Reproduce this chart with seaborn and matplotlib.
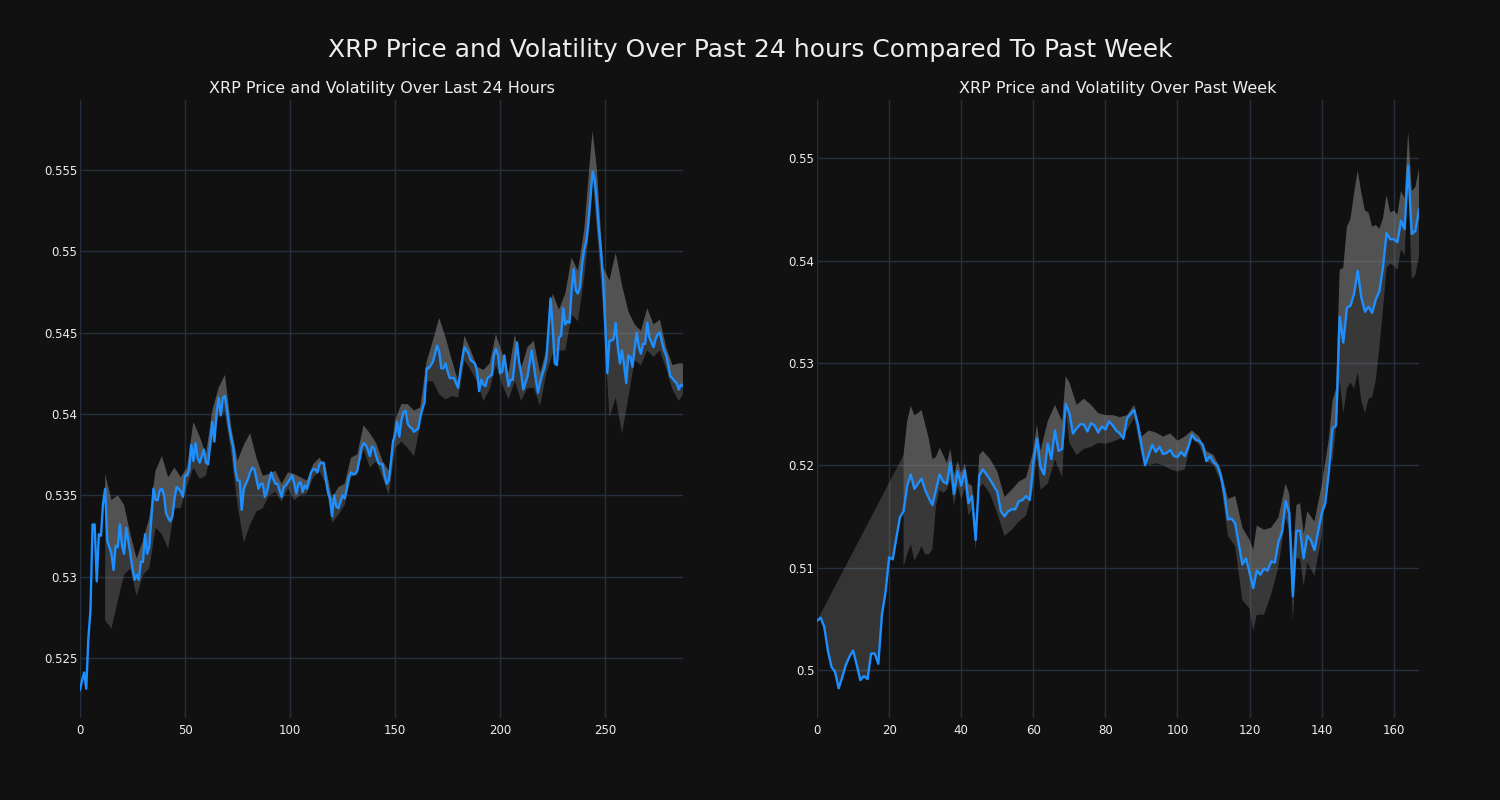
import numpy as np
import pandas as pd
import matplotlib
matplotlib.use("Agg")
import matplotlib.pyplot as plt
import seaborn as sns
from matplotlib.ticker import FuncFormatter

# ---------------- data ----------------
day_price = [
    0.5230, 0.5236, 0.5241, 0.5231, 0.5262, 0.5279, 0.5332, 0.5332, 0.5297, 0.5326,
    0.5325, 0.5345, 0.5354, 0.5322, 0.5318, 0.5314, 0.5304, 0.5319, 0.5318, 0.5332,
    0.5319, 0.5314, 0.5330, 0.5322, 0.5314, 0.5305, 0.5298, 0.5301, 0.5298, 0.5309,
    0.5309, 0.5326, 0.5314, 0.5318, 0.5336, 0.5354, 0.5347, 0.5347, 0.5353, 0.5354,
    0.5350, 0.5339, 0.5336, 0.5334, 0.5337, 0.5348, 0.5355, 0.5354, 0.5352, 0.5349,
    0.5362, 0.5362, 0.5366, 0.5381, 0.5371, 0.5382, 0.5373, 0.5370, 0.5374, 0.5378,
    0.5370, 0.5369, 0.5382, 0.5395, 0.5383, 0.5400, 0.5410, 0.5399, 0.5410, 0.5411,
    0.5402, 0.5392, 0.5385, 0.5379, 0.5365, 0.5359, 0.5359, 0.5341, 0.5354, 0.5357,
    0.5360, 0.5364, 0.5367, 0.5366, 0.5360, 0.5354, 0.5357, 0.5357, 0.5349, 0.5352,
    0.5358, 0.5364, 0.5360, 0.5357, 0.5357, 0.5353, 0.5349, 0.5355, 0.5356, 0.5358,
    0.5360, 0.5362, 0.5357, 0.5351, 0.5357, 0.5358, 0.5352, 0.5356, 0.5354, 0.5359,
    0.5364, 0.5366, 0.5366, 0.5364, 0.5369, 0.5370, 0.5370, 0.5360, 0.5352, 0.5348,
    0.5337, 0.5350, 0.5343, 0.5342, 0.5346, 0.5350, 0.5348, 0.5354, 0.5361, 0.5364,
    0.5363, 0.5363, 0.5365, 0.5372, 0.5379, 0.5382, 0.5381, 0.5378, 0.5374, 0.5380,
    0.5379, 0.5374, 0.5370, 0.5369, 0.5369, 0.5362, 0.5357, 0.5359, 0.5370, 0.5383,
    0.5387, 0.5395, 0.5386, 0.5396, 0.5401, 0.5402, 0.5394, 0.5392, 0.5391, 0.5389,
    0.5390, 0.5391, 0.5398, 0.5403, 0.5407, 0.5428, 0.5428, 0.5430, 0.5432, 0.5437,
    0.5442, 0.5438, 0.5428, 0.5428, 0.5431, 0.5426, 0.5422, 0.5422, 0.5422, 0.5419,
    0.5416, 0.5426, 0.5434, 0.5441, 0.5439, 0.5437, 0.5433, 0.5432, 0.5431, 0.5426,
    0.5414, 0.5421, 0.5418, 0.5417, 0.5422, 0.5423, 0.5424, 0.5436, 0.5440, 0.5436,
    0.5425, 0.5426, 0.5436, 0.5426, 0.5417, 0.5421, 0.5421, 0.5433, 0.5444, 0.5432,
    0.5425, 0.5415, 0.5419, 0.5423, 0.5431, 0.5439, 0.5430, 0.5421, 0.5413, 0.5419,
    0.5424, 0.5428, 0.5434, 0.5452, 0.5471, 0.5453, 0.5431, 0.5430, 0.5447, 0.5448,
    0.5465, 0.5455, 0.5457, 0.5456, 0.5476, 0.5489, 0.5476, 0.5474, 0.5478, 0.5492,
    0.5501, 0.5506, 0.5518, 0.5533, 0.5549, 0.5544, 0.5530, 0.5513, 0.5500, 0.5483,
    0.5455, 0.5425, 0.5445, 0.5445, 0.5446, 0.5456, 0.5441, 0.5431, 0.5439, 0.5430,
    0.5419, 0.5436, 0.5435, 0.5429, 0.5440, 0.5450, 0.5441, 0.5437, 0.5443, 0.5443,
    0.5456, 0.5447, 0.5444, 0.5441, 0.5446, 0.5449, 0.5450, 0.5444, 0.5439, 0.5436,
    0.5430, 0.5423, 0.5422, 0.5420, 0.5419, 0.5415, 0.5418, 0.5417,
]

day_band_x = [12, 15, 18, 21, 24, 27, 30, 33, 36, 39, 42, 45, 48, 51, 54, 57, 60, 63,
              66, 69, 72, 75, 78, 81, 84, 87, 90, 93, 96, 99, 102, 105, 108, 111, 114,
              117, 120, 123, 126, 129, 132, 135, 138, 141, 144, 147, 150, 153, 156, 159,
              162, 165, 168, 171, 174, 177, 180, 183, 186, 189, 192, 195, 198, 201, 204,
              207, 210, 213, 216, 219, 222, 225, 228, 231, 234, 237, 240, 243, 244, 246,
              249, 252, 255, 258, 261, 264, 267, 270, 273, 276, 279, 282, 285, 287]
day_band_hi = [0.5363, 0.5347, 0.5350, 0.5344, 0.5326, 0.5311, 0.5322, 0.5336, 0.5365,
               0.5374, 0.5361, 0.5367, 0.5361, 0.5367, 0.5395, 0.5386, 0.5375, 0.5402,
               0.5416, 0.5424, 0.5392, 0.5371, 0.5381, 0.5388, 0.5373, 0.5362, 0.5363,
               0.5365, 0.5357, 0.5364, 0.5363, 0.5361, 0.5359, 0.5369, 0.5373, 0.5367,
               0.5348, 0.5355, 0.5357, 0.5373, 0.5375, 0.5393, 0.5388, 0.5382, 0.5371,
               0.5365, 0.5396, 0.5406, 0.5406, 0.5402, 0.5404, 0.5432, 0.5445, 0.5459,
               0.5447, 0.5433, 0.5420, 0.5448, 0.5439, 0.5429, 0.5427, 0.5431, 0.5449,
               0.5437, 0.5425, 0.5449, 0.5428, 0.5441, 0.5445, 0.5425, 0.5439, 0.5474,
               0.5464, 0.5474, 0.5496, 0.5488, 0.5513, 0.5560, 0.5574, 0.5551, 0.5490,
               0.5482, 0.5499, 0.5479, 0.5463, 0.5455, 0.5451, 0.5465, 0.5455, 0.5458,
               0.5441, 0.5430, 0.5431, 0.5431]
day_band_lo = [0.5273, 0.5268, 0.5285, 0.5301, 0.5305, 0.5288, 0.5301, 0.5305, 0.5330,
               0.5326, 0.5317, 0.5342, 0.5342, 0.5356, 0.5367, 0.5360, 0.5362, 0.5382,
               0.5399, 0.5401, 0.5376, 0.5344, 0.5321, 0.5332, 0.5340, 0.5342, 0.5350,
               0.5352, 0.5346, 0.5354, 0.5347, 0.5350, 0.5351, 0.5361, 0.5365, 0.5357,
               0.5333, 0.5338, 0.5344, 0.5361, 0.5363, 0.5378, 0.5367, 0.5371, 0.5361,
               0.5350, 0.5379, 0.5383, 0.5379, 0.5374, 0.5393, 0.5420, 0.5420, 0.5412,
               0.5409, 0.5411, 0.5410, 0.5433, 0.5427, 0.5420, 0.5408, 0.5415, 0.5430,
               0.5418, 0.5409, 0.5420, 0.5408, 0.5416, 0.5416, 0.5405, 0.5425, 0.5437,
               0.5439, 0.5439, 0.5461, 0.5457, 0.5484, 0.5521, 0.5546, 0.5514, 0.5465,
               0.5398, 0.5410, 0.5388, 0.5410, 0.5433, 0.5430, 0.5439, 0.5435, 0.5439,
               0.5428, 0.5415, 0.5408, 0.5412]

week_price = [
    0.5048, 0.5051, 0.5042, 0.5019, 0.5003, 0.4998, 0.4982, 0.4993, 0.5005, 0.5013,
    0.5019, 0.5005, 0.4990, 0.4994, 0.4991, 0.5016, 0.5016, 0.5006, 0.5054, 0.5076,
    0.5110, 0.5108, 0.5129, 0.5149, 0.5155, 0.5180, 0.5191, 0.5177, 0.5182, 0.5187,
    0.5176, 0.5168, 0.5161, 0.5176, 0.5191, 0.5184, 0.5182, 0.5203, 0.5172, 0.5194,
    0.5180, 0.5195, 0.5163, 0.5170, 0.5127, 0.5190, 0.5196, 0.5191, 0.5186, 0.5180,
    0.5174, 0.5155, 0.5150, 0.5155, 0.5157, 0.5157, 0.5165, 0.5166, 0.5170, 0.5166,
    0.5202, 0.5226, 0.5198, 0.5191, 0.5221, 0.5206, 0.5234, 0.5214, 0.5216, 0.5260,
    0.5251, 0.5231, 0.5236, 0.5240, 0.5240, 0.5233, 0.5241, 0.5239, 0.5232, 0.5238,
    0.5235, 0.5243, 0.5239, 0.5234, 0.5231, 0.5226, 0.5246, 0.5250, 0.5254, 0.5240,
    0.5220, 0.5200, 0.5210, 0.5220, 0.5213, 0.5218, 0.5211, 0.5212, 0.5215, 0.5209,
    0.5208, 0.5213, 0.5209, 0.5218, 0.5230, 0.5225, 0.5224, 0.5220, 0.5204, 0.5209,
    0.5203, 0.5200, 0.5190, 0.5172, 0.5147, 0.5148, 0.5143, 0.5123, 0.5103, 0.5109,
    0.5095, 0.5080, 0.5097, 0.5093, 0.5099, 0.5097, 0.5106, 0.5105, 0.5125, 0.5135,
    0.5165, 0.5153, 0.5072, 0.5136, 0.5136, 0.5109, 0.5131, 0.5127, 0.5117, 0.5135,
    0.5153, 0.5163, 0.5194, 0.5236, 0.5239, 0.5345, 0.5320, 0.5354, 0.5356, 0.5368,
    0.5390, 0.5364, 0.5350, 0.5355, 0.5349, 0.5362, 0.5370, 0.5393, 0.5427, 0.5421,
    0.5421, 0.5418, 0.5439, 0.5431, 0.5493, 0.5426, 0.5429, 0.5450,
]

week_band_x = [0, 24, 25, 26, 27, 28, 29, 30, 31, 32, 33, 34, 35, 36, 37, 38, 39, 40,
               41, 42, 43, 44, 45, 46, 48, 50, 52, 54, 56, 58, 60, 61, 62, 64, 66, 68,
               69, 70, 72, 74, 76, 78, 80, 82, 84, 86, 88, 90, 92, 94, 96, 98, 100, 102,
               104, 106, 108, 110, 112, 114, 116, 118, 120, 121, 122, 124, 126, 128, 130,
               131, 132, 133, 134, 135, 136, 138, 140, 142, 143, 144, 145, 146, 147, 148,
               149, 150, 151, 152, 153, 154, 155, 156, 157, 158, 159, 160, 161, 162, 163,
               164, 165, 166, 167]
week_band_hi = [0.5048, 0.5210, 0.5243, 0.5258, 0.5249, 0.5251, 0.5254, 0.5240, 0.5226,
                0.5206, 0.5208, 0.5217, 0.5210, 0.5202, 0.5216, 0.5190, 0.5204, 0.5192,
                0.5202, 0.5182, 0.5180, 0.5137, 0.5210, 0.5214, 0.5206, 0.5194, 0.5169,
                0.5176, 0.5184, 0.5188, 0.5214, 0.5240, 0.5214, 0.5243, 0.5259, 0.5243,
                0.5287, 0.5281, 0.5259, 0.5265, 0.5259, 0.5251, 0.5249, 0.5249, 0.5247,
                0.5249, 0.5259, 0.5228, 0.5234, 0.5232, 0.5228, 0.5231, 0.5224, 0.5228,
                0.5234, 0.5228, 0.5214, 0.5210, 0.5196, 0.5167, 0.5170, 0.5139, 0.5127,
                0.5117, 0.5141, 0.5137, 0.5139, 0.5149, 0.5182, 0.5172, 0.5109, 0.5161,
                0.5163, 0.5133, 0.5155, 0.5145, 0.5180, 0.5226, 0.5263, 0.5275, 0.5391,
                0.5393, 0.5433, 0.5441, 0.5466, 0.5488, 0.5466, 0.5449, 0.5447, 0.5433,
                0.5435, 0.5431, 0.5441, 0.5464, 0.5447, 0.5449, 0.5445, 0.5468, 0.5461,
                0.5526, 0.5468, 0.5472, 0.5490]
week_band_lo = [np.nan, 0.5101, 0.5113, 0.5123, 0.5107, 0.5113, 0.5121, 0.5113, 0.5113,
                0.5118, 0.5161, 0.5176, 0.5173, 0.5176, 0.5186, 0.5161, 0.5180, 0.5167,
                0.5178, 0.5151, 0.5157, 0.5117, 0.5178, 0.5182, 0.5172, 0.5153, 0.5131,
                0.5137, 0.5145, 0.5151, 0.5178, 0.5210, 0.5176, 0.5182, 0.5206, 0.5188,
                0.5255, 0.5222, 0.5210, 0.5216, 0.5218, 0.5222, 0.5221, 0.5223, 0.5226,
                0.5234, 0.5247, 0.5210, 0.5200, 0.5202, 0.5200, 0.5196, 0.5194, 0.5196,
                0.5226, 0.5220, 0.5204, 0.5200, 0.5184, 0.5131, 0.5121, 0.5068, 0.5060,
                0.5038, 0.5054, 0.5054, 0.5074, 0.5101, 0.5149, 0.5137, 0.5048, 0.5109,
                0.5109, 0.5082, 0.5105, 0.5092, 0.5131, 0.5210, 0.5204, 0.5238, 0.5283,
                0.5251, 0.5275, 0.5281, 0.5275, 0.5291, 0.5263, 0.5251, 0.5265, 0.5267,
                0.5283, 0.5315, 0.5352, 0.5393, 0.5397, 0.5395, 0.5391, 0.5411, 0.5405,
                0.5474, 0.5382, 0.5386, 0.5405]

day_xticks = [0, 50, 100, 150, 200, 250]
day_yticks = [0.525, 0.53, 0.535, 0.54, 0.545, 0.55, 0.555]
week_xticks = [0, 20, 40, 60, 80, 100, 120, 140, 160]
week_yticks = [0.50, 0.51, 0.52, 0.53, 0.54, 0.55]

suptitle = "XRP Price and Volatility Over Past 24 hours Compared To Past Week"
title_day = "XRP Price and Volatility Over Last 24 Hours"
title_week = "XRP Price and Volatility Over Past Week"

# ---------------- style ----------------
BG = "#111111"
GRID = "#26303d"
TXT = "#eeeeee"
LINE = "#1e8fff"

sns.set_theme(style="dark")
plt.rcParams["font.family"] = ["DejaVu Sans"]

fig = plt.figure(figsize=(15, 8), dpi=100, facecolor=BG)
ax1 = fig.add_axes([0.0533, 0.1025, 0.402, 0.7725])
ax2 = fig.add_axes([0.5447, 0.1025, 0.4013, 0.7725])


def draw(ax, price, bx, bhi, blo, xticks, yticks, title, ylim):
    ax.set_facecolor(BG)
    x = np.arange(len(price))
    p = np.asarray(price)
    bx = np.asarray(bx)
    bhi = np.asarray(bhi, dtype=float)
    blo = np.asarray(blo, dtype=float)

    # dark band: between lower and upper bound
    ok = ~np.isnan(blo)
    vx = np.concatenate([bx[ok], bx[ok][::-1]])
    vy = np.concatenate([bhi[ok], blo[ok][::-1]])
    ax.fill(vx, vy, color="#808080", alpha=0.36, lw=0, zorder=1)

    # lighter band: between price and upper bound
    seg = (x >= bx[0]) & (x <= bx[-1])
    vx2 = np.concatenate([bx, x[seg][::-1]])
    vy2 = np.concatenate([bhi, p[seg][::-1]])
    ax.fill(vx2, vy2, color="#a0a0a0", alpha=0.25, lw=0, zorder=2)

    df = pd.DataFrame({"t": x, "price": p})
    sns.lineplot(data=df, x="t", y="price", ax=ax, color=LINE, lw=1.7, zorder=3)

    ax.set_xlim(0, len(price) - 1)
    ax.set_ylim(*ylim)
    ax.set_xticks(xticks)
    ax.set_yticks(yticks)
    ax.yaxis.set_major_formatter(FuncFormatter(lambda v, _: f"{round(v, 4):g}"))
    ax.grid(True, color=GRID, lw=1)
    ax.set_axisbelow(True)
    for s in ax.spines.values():
        s.set_visible(False)
    ax.tick_params(axis="both", colors=TXT, labelsize=8.5, length=0)
    ax.tick_params(axis="y", pad=2)
    ax.tick_params(axis="x", pad=4)
    ax.set_xlabel("")
    ax.set_ylabel("")
    ax.set_title(title, color=TXT, fontsize=11.5, pad=5)


draw(ax1, day_price, day_band_x, day_band_hi, day_band_lo,
     day_xticks, day_yticks, title_day, (0.5213, 0.5593))
draw(ax2, week_price, week_band_x, week_band_hi, week_band_lo,
     week_xticks, week_yticks, title_week, (0.4953, 0.5557))

fig.suptitle(suptitle, color=TXT, fontsize=18, y=0.952)

fig.savefig("out.png", dpi=100, facecolor=BG)
